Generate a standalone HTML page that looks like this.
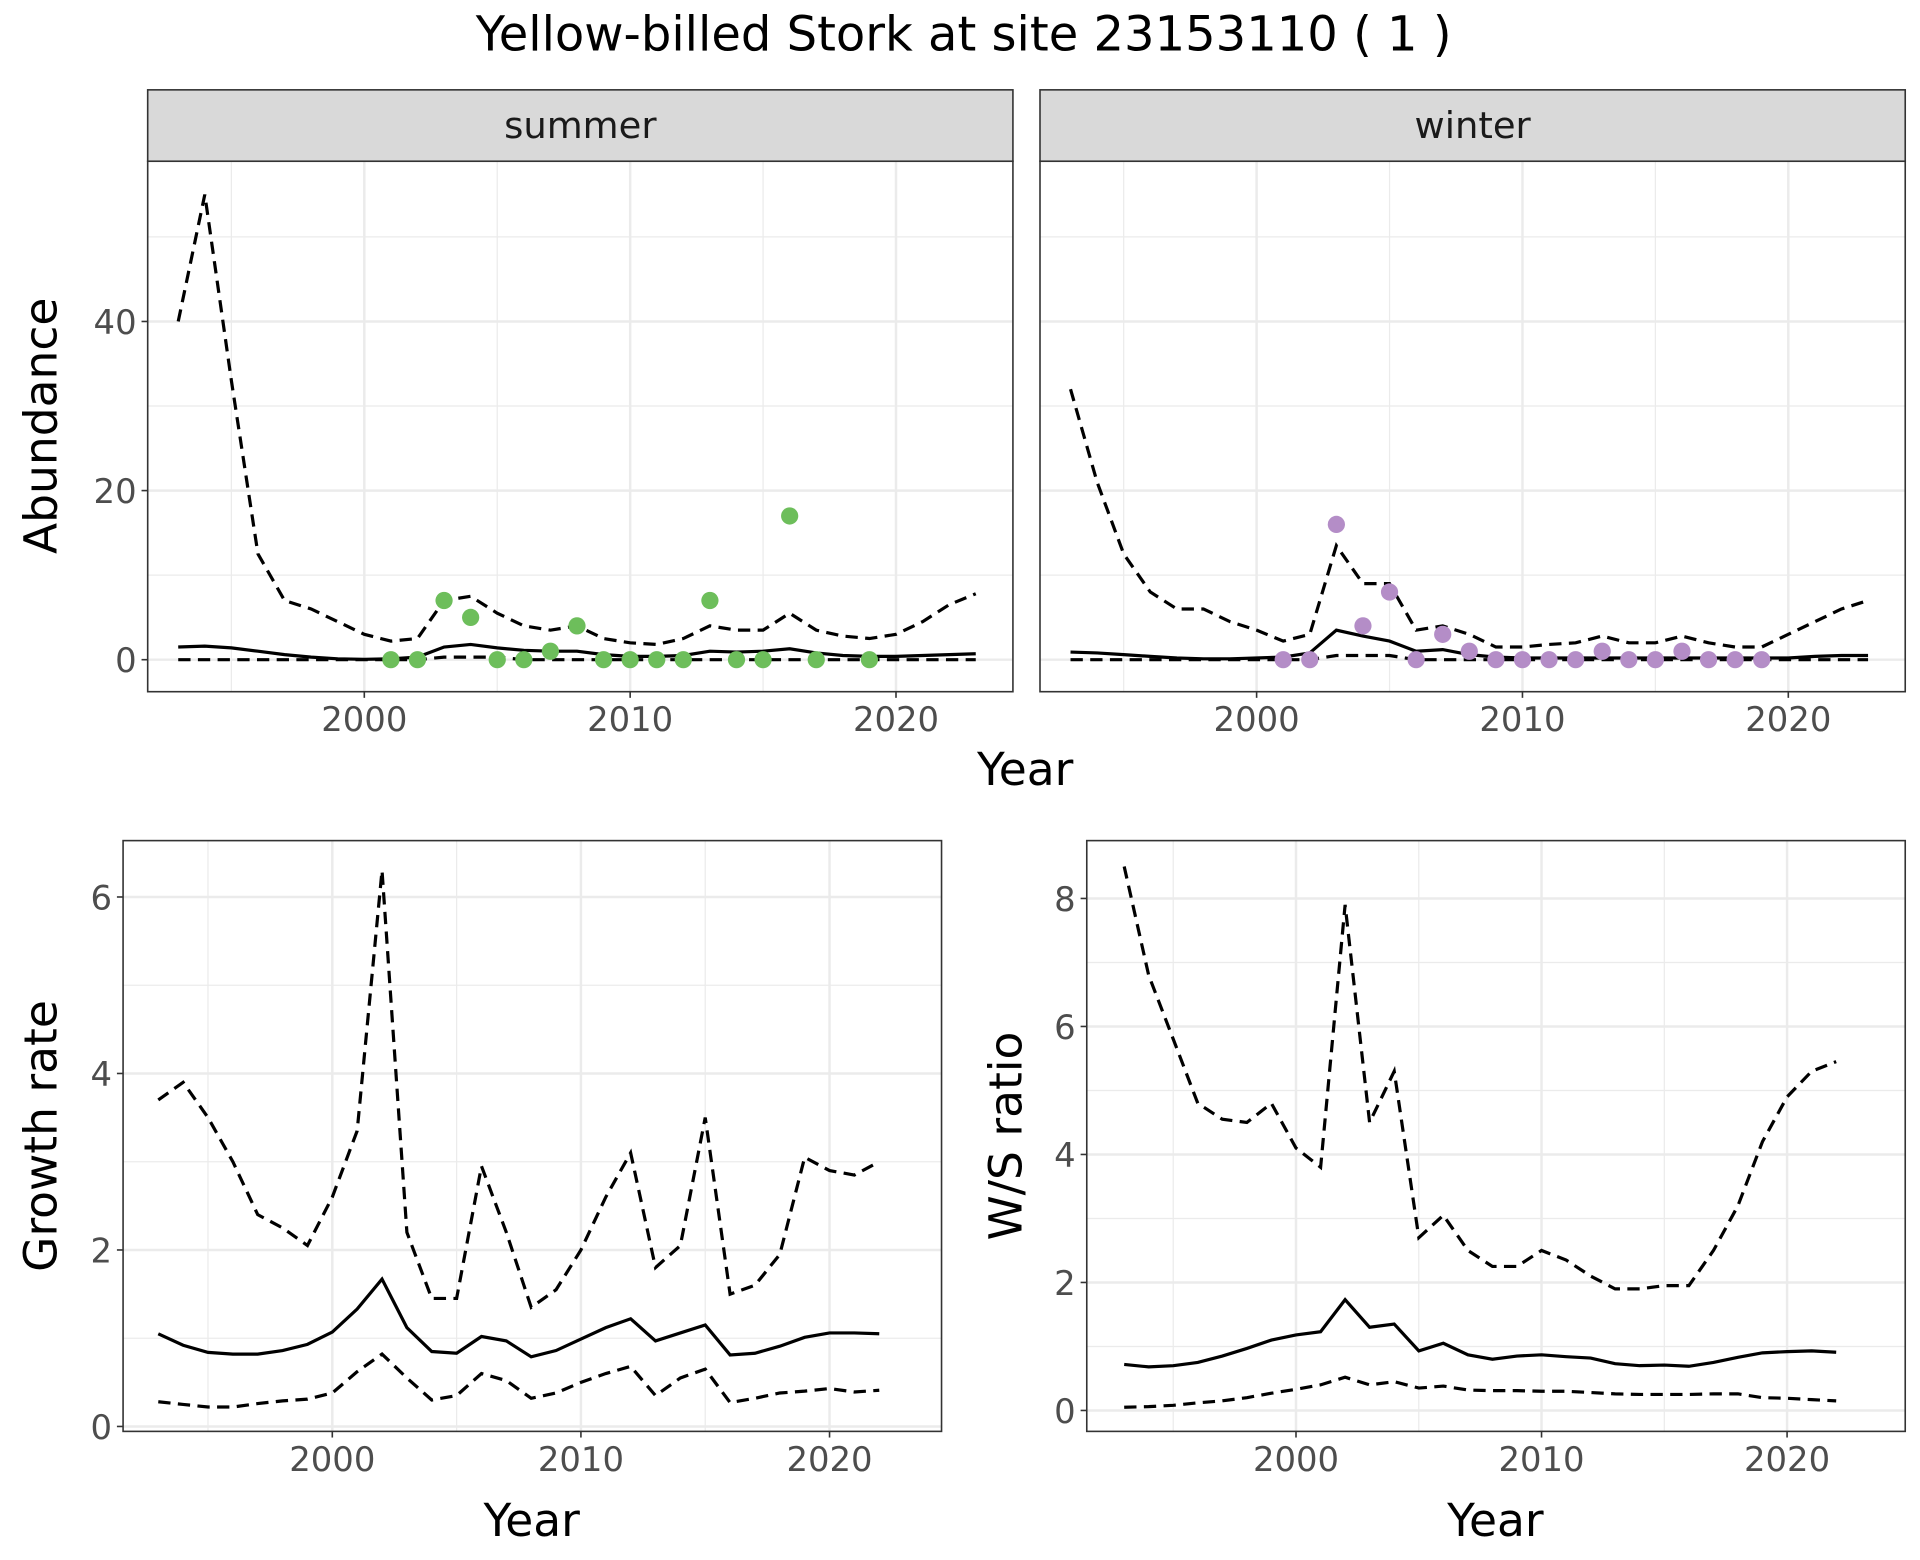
<!DOCTYPE html>
<html><head><meta charset="utf-8"><style>
html,body{margin:0;padding:0;background:#fff;}
svg{display:block;}
text{font-family:"DejaVu Sans","Liberation Sans",sans-serif;}
</style></head><body>
<svg id="s" width="1920" height="1560" viewBox="0 0 1560 1267.5" preserveAspectRatio="none" xmlns="http://www.w3.org/2000/svg"></svg>
<script>
const S=document.getElementById('s');let h='';
h+='<rect width="1560" height="1268" fill="#fff"/>';
h+='<text x="783" y="41" font-size="39" text-anchor="middle" fill="#000">Yellow-billed Stork at site 23153110 ( 1 )</text>';
function panel(o){
 const {x0,x1,y0,y1,xs,ys,xmaj,xmin,ymaj,ymin}=o;
 const X=v=>xs[0]+(v-xs[1])*xs[2], Y=v=>ys[0]-(v-ys[1])*ys[2];
 let g='';
 g+=`<rect x="${x0}" y="${y0}" width="${x1-x0}" height="${y1-y0}" fill="#fff"/>`;
 for(const v of xmin)g+=`<line x1="${X(v)}" x2="${X(v)}" y1="${y0}" y2="${y1}" stroke="#ebebeb" stroke-width="1"/>`;
 for(const v of ymin)g+=`<line y1="${Y(v)}" y2="${Y(v)}" x1="${x0}" x2="${x1}" stroke="#ebebeb" stroke-width="1"/>`;
 for(const v of xmaj)g+=`<line x1="${X(v)}" x2="${X(v)}" y1="${y0}" y2="${y1}" stroke="#ebebeb" stroke-width="2"/>`;
 for(const v of ymaj)g+=`<line y1="${Y(v)}" y2="${Y(v)}" x1="${x0}" x2="${x1}" stroke="#ebebeb" stroke-width="2"/>`;
 const line=(start,arr,dash)=>{let p=arr.map((v,i)=>(i?'L':'M')+X(start+i).toFixed(1)+','+Y(v).toFixed(1)).join('');
  g+=`<path d="${p}" fill="none" stroke="#000" stroke-width="2.6" ${dash?'stroke-dasharray="10,6"':''}/>`;};
 for(const l of o.lines)line(l[0],l[1],l[2]);
 if(o.pts)for(const p of o.pts)g+=`<circle cx="${X(p[0])}" cy="${Y(p[1])}" r="7" fill="${o.col}"/>`;
 g+=`<rect x="${x0}" y="${y0}" width="${x1-x0}" height="${y1-y0}" fill="none" stroke="#333" stroke-width="1.3"/>`;
 if(o.xl)for(const v of xmaj){g+=`<line x1="${X(v)}" x2="${X(v)}" y1="${y1}" y2="${y1+5}" stroke="#333" stroke-width="1.3"/><text x="${X(v)}" y="${y1+32}" font-size="27.5" fill="#4d4d4d" text-anchor="middle">${v}</text>`;}
 if(o.yl)for(const v of ymaj){g+=`<line x1="${x0-5}" x2="${x0}" y1="${Y(v)}" y2="${Y(v)}" stroke="#333" stroke-width="1.3"/><text x="${x0-9}" y="${Y(v)+10}" font-size="27.5" fill="#4d4d4d" text-anchor="end">${v}</text>`;}
 if(o.strip){g+=`<rect x="${x0}" y="73" width="${x1-x0}" height="${y0-73}" fill="#d9d9d9" stroke="#333" stroke-width="1.3"/><text x="${(x0+x1)/2}" y="112" font-size="30" fill="#1a1a1a" text-anchor="middle">${o.strip}</text>`;}
 h+=g;
}
const yrs=[2000,2010,2020],myrs=[1995,2005,2015];
const sumU=[40,55,33,12.5,7,6,4.5,3,2.2,2.5,7,7.5,5.5,4,3.5,4,2.5,2,1.8,2.5,4,3.5,3.5,5.5,3.5,2.8,2.5,3,4.5,6.5,7.8];
const sumM=[1.5,1.6,1.4,1,0.6,0.3,0.1,0.05,0.1,0.3,1.5,1.8,1.4,1.1,1,1,0.6,0.4,0.4,0.5,1,0.9,1,1.3,0.8,0.5,0.4,0.4,0.5,0.6,0.7];
const sumL=sumU.map((v,i)=>(i>=10&&i<=12)?0.3:0);
const winU=[32,21,12.5,8,6,6,4.5,3.5,2.2,3,13.5,9,9,3.5,4,3,1.5,1.5,1.8,2,2.8,2,2,2.8,2,1.5,1.5,3,4.5,6,7];
const winM=[0.9,0.8,0.6,0.4,0.2,0.1,0.1,0.2,0.3,0.8,3.5,2.8,2.2,1,1.2,0.6,0.3,0.2,0.2,0.2,0.2,0.2,0.2,0.2,0.2,0.2,0.2,0.2,0.4,0.5,0.5];
const winL=winU.map((v,i)=>(i>=10&&i<=12)?0.5:0);
panel({x0:120,x1:823,y0:131,y1:562,xs:[296,2000,21.6],ys:[536,0,6.87],xmaj:yrs,xmin:myrs,ymaj:[0,20,40],ymin:[10,30,50],
 lines:[[1993,sumU,1],[1993,sumM,0],[1993,sumL,1]],col:"#6dbe5b",
 pts:[[2001,0],[2002,0],[2003,7],[2004,5],[2005,0],[2006,0],[2007,1],[2008,4],[2009,0],[2010,0],[2011,0],[2012,0],[2013,7],[2014,0],[2015,0],[2016,17],[2017,0],[2019,0]],
 xl:1,yl:1,strip:"summer"});
panel({x0:845,x1:1548,y0:131,y1:562,xs:[1021,2000,21.6],ys:[536,0,6.87],xmaj:yrs,xmin:myrs,ymaj:[0,20,40],ymin:[10,30,50],
 lines:[[1993,winU,1],[1993,winM,0],[1993,winL,1]],col:"#b48dc7",
 pts:[[2001,0],[2002,0],[2003,16],[2004,4],[2005,8],[2006,0],[2007,3],[2008,1],[2009,0],[2010,0],[2011,0],[2012,0],[2013,1],[2014,0],[2015,0],[2016,1],[2017,0],[2018,0],[2019,0]],
 xl:1,yl:0,strip:"winter"});
const gU=[3.7,3.9,3.5,3.0,2.4,2.25,2.05,2.6,3.35,6.3,2.2,1.45,1.45,2.95,2.2,1.35,1.55,2.0,2.6,3.1,1.8,2.05,3.5,1.5,1.6,1.95,3.05,2.9,2.85,3.0];
const gM=[1.05,0.92,0.84,0.82,0.82,0.86,0.93,1.07,1.33,1.67,1.12,0.85,0.83,1.02,0.97,0.79,0.86,0.99,1.12,1.22,0.97,1.06,1.15,0.81,0.83,0.91,1.01,1.06,1.06,1.05];
const gL=[0.28,0.25,0.22,0.22,0.26,0.29,0.31,0.38,0.62,0.82,0.55,0.3,0.35,0.6,0.52,0.32,0.38,0.5,0.6,0.68,0.35,0.55,0.65,0.27,0.32,0.38,0.4,0.43,0.39,0.41];
panel({x0:100,x1:765,y0:683,y1:1163,xs:[270,2000,20.2],ys:[1159,0,71.7],xmaj:yrs,xmin:myrs,ymaj:[0,2,4,6],ymin:[1,3,5],
 lines:[[1993,gU,1],[1993,gM,0],[1993,gL,1]],xl:1,yl:1});
const wU=[8.5,6.8,5.8,4.8,4.55,4.5,4.8,4.1,3.8,7.9,4.5,5.3,2.7,3.05,2.5,2.25,2.25,2.5,2.35,2.1,1.9,1.9,1.95,1.95,2.5,3.2,4.2,4.9,5.3,5.45];
const wM=[0.72,0.68,0.7,0.75,0.85,0.97,1.1,1.18,1.23,1.73,1.3,1.35,0.93,1.05,0.87,0.8,0.85,0.87,0.84,0.82,0.73,0.7,0.71,0.69,0.75,0.83,0.9,0.92,0.93,0.91];
const wL=[0.05,0.06,0.08,0.12,0.15,0.2,0.27,0.33,0.4,0.52,0.4,0.45,0.35,0.38,0.32,0.31,0.31,0.3,0.3,0.28,0.26,0.25,0.25,0.25,0.26,0.26,0.2,0.19,0.17,0.15];
panel({x0:883,x1:1548,y0:683,y1:1163,xs:[1053,2000,19.95],ys:[1146,0,52],xmaj:yrs,xmin:myrs,ymaj:[0,2,4,6,8],ymin:[1,3,5,7],
 lines:[[1993,wU,1],[1993,wM,0],[1993,wL,1]],xl:1,yl:1});
h+='<text x="833" y="638" font-size="37" text-anchor="middle">Year</text>';
h+='<text x="432" y="1248" font-size="37" text-anchor="middle">Year</text>';
h+='<text x="1215" y="1248" font-size="37" text-anchor="middle">Year</text>';
h+='<text transform="translate(46,346) rotate(-90)" font-size="37" text-anchor="middle">Abundance</text>';
h+='<text transform="translate(46,923) rotate(-90)" font-size="37" text-anchor="middle">Growth rate</text>';
h+='<text transform="translate(830,923) rotate(-90)" font-size="37" text-anchor="middle">W/S ratio</text>';
S.innerHTML=h;
</script>
</body></html>
